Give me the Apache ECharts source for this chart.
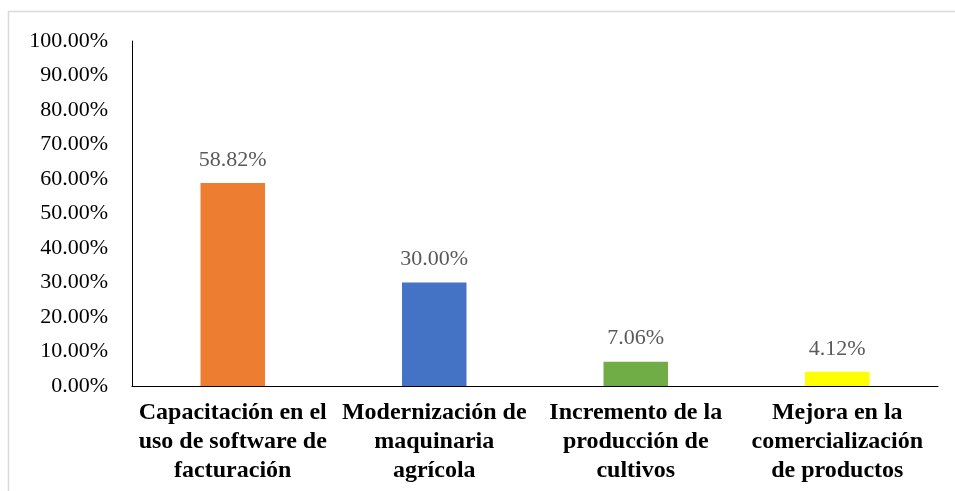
<!DOCTYPE html>
<html>
<head>
<meta charset="utf-8">
<script src="https://cdn.jsdelivr.net/npm/echarts@6/dist/echarts.min.js"></script>
<style>
  html, body { margin: 0; padding: 0; background: #fff; }
  #chart { width: 955px; height: 491px; }
</style>
</head>
<body>
<div id="chart"></div>
<script>
let categories = [
  "Capacitación en el\nuso de software de\nfacturación",
  "Modernización de\nmaquinaria\nagrícola",
  "Incremento de la\nproducción de\ncultivos",
  "Mejora en la\ncomercialización\nde productos",
];
let values = [58.82, 30.0, 7.06, 4.12];
let barColors = ["#ED7D31", "#4472C4", "#70AD47", "#FFFF00"];

let chartDom = document.getElementById("chart");
let myChart = echarts.init(chartDom);
let font = "'Liberation Serif', 'Times New Roman', serif";

let option = {
  animation: false,
  // marco gris del gráfico (recortado a la derecha y abajo)
  graphic: [
    {
      type: "rect",
      shape: { x: 8.5, y: 11.5, width: 1200, height: 1200 },
      style: { fill: "none", stroke: "#d9d9d9", lineWidth: 1.5 },
      silent: true,
    },
  ],
  grid: { left: 132, right: 17, top: 41, bottom: 105 },
  xAxis: {
    type: "category",
    data: categories,
    axisLine: { lineStyle: { color: "#000", width: 1 } },
    axisTick: { show: false },
    axisLabel: {
      interval: 0,
      margin: 12,
      color: "#000",
      fontFamily: font,
      fontWeight: "bold",
      fontSize: 24,
      lineHeight: 29,
    },
  },
  yAxis: {
    type: "value",
    min: 0,
    max: 100,
    interval: 10,
    axisLine: { show: true, lineStyle: { color: "#000", width: 1 } },
    axisTick: { show: false },
    splitLine: { show: false },
    axisLabel: {
      margin: 24,
      color: "#000",
      fontFamily: font,
      fontSize: 22,
      formatter: (v) => v.toFixed(2) + "%",
    },
  },
  series: [
    {
      type: "bar",
      barWidth: "32%",
      data: values.map((v, i) => ({ value: v, itemStyle: { color: barColors[i] } })),
      label: {
        show: true,
        position: "top",
        distance: 12,
        color: "#595959",
        fontFamily: font,
        fontSize: 22,
        formatter: (p) => p.value.toFixed(2) + "%",
      },
    },
  ],
};

option && myChart.setOption(option);
</script>
</body>
</html>
